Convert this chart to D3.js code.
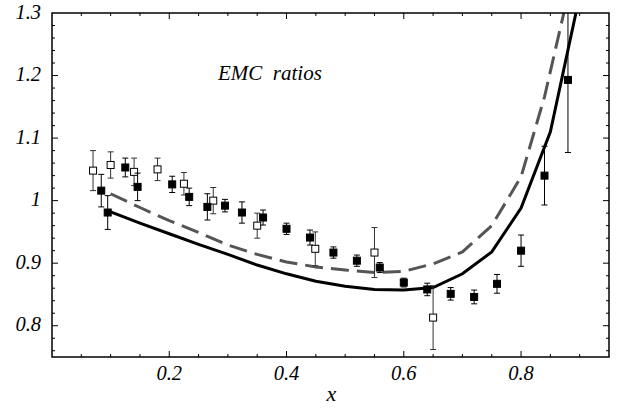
<!DOCTYPE html>
<html>
<head>
<meta charset="utf-8">
<script src="https://cdn.jsdelivr.net/npm/d3@7"></script>
<style>
  body { margin: 0; background: #fff; }
</style>
</head>
<body>
<div id="chart"></div>
<script>
// filled squares: x, ratio, error
const filledX = [0.084, 0.095, 0.125, 0.146, 0.205, 0.234, 0.265, 0.295, 0.324, 0.36, 0.40, 0.44, 0.48, 0.52, 0.559, 0.60, 0.64, 0.68, 0.72, 0.759, 0.80, 0.84, 0.88];
const filledY = [1.016, 0.981, 1.053, 1.022, 1.026, 1.006, 0.990, 0.992, 0.981, 0.973, 0.955, 0.941, 0.917, 0.904, 0.893, 0.869, 0.858, 0.851, 0.846, 0.867, 0.920, 1.040, 1.193];
const filledErr = [0.026, 0.027, 0.015, 0.022, 0.013, 0.014, 0.021, 0.010, 0.017, 0.012, 0.009, 0.012, 0.009, 0.009, 0.008, 0.007, 0.010, 0.010, 0.011, 0.015, 0.025, 0.047, 0.116];

// open squares
const openX = [0.070, 0.100, 0.140, 0.180, 0.225, 0.275, 0.350, 0.449, 0.550, 0.650];
const openY = [1.048, 1.057, 1.046, 1.050, 1.027, 1.000, 0.960, 0.923, 0.917, 0.813];
const openErr = [0.032, 0.021, 0.022, 0.018, 0.018, 0.021, 0.020, 0.027, 0.040, 0.051];

// solid curve
const solidX = [0.10, 0.15, 0.20, 0.25, 0.30, 0.35, 0.40, 0.45, 0.50, 0.55, 0.60, 0.65, 0.70, 0.75, 0.80, 0.85, 0.90];
const solidY = [0.982, 0.964, 0.947, 0.930, 0.914, 0.897, 0.883, 0.871, 0.863, 0.858, 0.857, 0.861, 0.883, 0.918, 0.988, 1.110, 1.328];

// dashed curve
const dashX = [0.10, 0.15, 0.20, 0.25, 0.30, 0.35, 0.40, 0.45, 0.50, 0.55, 0.60, 0.65, 0.70, 0.75, 0.80, 0.84, 0.90];
const dashY = [1.011, 0.989, 0.968, 0.949, 0.929, 0.914, 0.902, 0.894, 0.889, 0.885, 0.887, 0.899, 0.918, 0.960, 1.038, 1.166, 1.410];

const xTicks = [0.2, 0.4, 0.6, 0.8];
const yTicks = [0.8, 0.9, 1.0, 1.1, 1.2, 1.3];
const yTickLabels = ["0.8", "0.9", "1", "1.1", "1.2", "1.3"];

const W = 619, H = 408;
const margin = { top: 13, right: 10, bottom: 51, left: 52 };
const width = W - margin.left - margin.right,
  height = H - margin.top - margin.bottom;

const serif = "'Liberation Serif', 'Times New Roman', Times, serif";

const svg = d3.select("#chart").append("svg")
  .attr("width", W).attr("height", H)
  .attr("font-family", serif)
  .attr("font-style", "italic")
  .append("g")
  .attr("transform", "translate(" + margin.left + "," + margin.top + ")");

const x = d3.scaleLinear().domain([0, 0.95]).range([0, width]);
const y = d3.scaleLinear().domain([0.75, 1.3]).range([height, 0]);

svg.append("clipPath").attr("id", "clip")
  .append("rect").attr("width", width).attr("height", height);

const plot = svg.append("g").attr("clip-path", "url(#clip)");

// curves
const line = d3.line().x((d) => x(d[0])).y((d) => y(d[1]));
plot.append("path")
  .datum(dashX.map((v, i) => [v, dashY[i]]))
  .attr("fill", "none").attr("stroke", "#555").attr("stroke-width", 3)
  .attr("stroke-dasharray", "18,8")
  .attr("d", line);
plot.append("path")
  .datum(solidX.map((v, i) => [v, solidY[i]]))
  .attr("fill", "none").attr("stroke", "#000").attr("stroke-width", 3)
  .attr("d", line);

// error bars + markers
function drawSet(xs, ys, es, color, fill) {
  const data = xs.map((v, i) => ({ x: v, y: ys[i], e: es[i] }));
  const g = plot.append("g");
  g.selectAll(".bar").data(data).enter().append("line")
    .attr("x1", (d) => x(d.x)).attr("x2", (d) => x(d.x))
    .attr("y1", (d) => y(d.y - d.e)).attr("y2", (d) => y(d.y + d.e))
    .attr("stroke", color).attr("stroke-width", 1);
  [1, -1].forEach((s) => {
    g.selectAll(".cap" + s).data(data).enter().append("line")
      .attr("x1", (d) => x(d.x) - 3).attr("x2", (d) => x(d.x) + 3)
      .attr("y1", (d) => y(d.y + s * d.e)).attr("y2", (d) => y(d.y + s * d.e))
      .attr("stroke", color).attr("stroke-width", 1);
  });
  g.selectAll(".pt").data(data).enter().append("rect")
    .attr("x", (d) => x(d.x) - 3.5).attr("y", (d) => y(d.y) - 3.5)
    .attr("width", 7).attr("height", 7)
    .attr("fill", fill).attr("stroke", "#000").attr("stroke-width", 1);
}
drawSet(openX, openY, openErr, "#333", "#fff");
drawSet(filledX, filledY, filledErr, "#000", "#000");

// frame with inward ticks on all sides
const xMinor = d3.range(0.05, 0.95, 0.05);
const yMinor = d3.range(0.76, 1.3, 0.02);
const isMajor = (arr, d) => arr.some((t) => Math.abs(t - d) < 1e-6);
const frame = svg.append("g").attr("stroke", "#000");
frame.selectAll(".xt").data(xMinor).enter().append("line")
  .attr("x1", (d) => x(d)).attr("x2", (d) => x(d))
  .attr("y1", height).attr("y2", (d) => height - (isMajor(xTicks, d) ? 6 : 3));
frame.selectAll(".xtt").data(xMinor).enter().append("line")
  .attr("x1", (d) => x(d)).attr("x2", (d) => x(d))
  .attr("y1", 0).attr("y2", (d) => (isMajor(xTicks, d) ? 6 : 3));
frame.selectAll(".yt").data(yMinor).enter().append("line")
  .attr("y1", (d) => y(d)).attr("y2", (d) => y(d))
  .attr("x1", 0).attr("x2", (d) => (isMajor(yTicks, d) ? 6 : 3));
frame.selectAll(".ytr").data(yMinor).enter().append("line")
  .attr("y1", (d) => y(d)).attr("y2", (d) => y(d))
  .attr("x1", width).attr("x2", (d) => width - (isMajor(yTicks, d) ? 6 : 3));
svg.append("rect").attr("width", width).attr("height", height)
  .attr("fill", "none").attr("stroke", "#000").attr("stroke-width", 1.5);

// tick labels
svg.selectAll(".xl").data(xTicks).enter().append("text")
  .attr("x", (d) => x(d)).attr("y", height + 23)
  .attr("text-anchor", "middle").attr("font-size", 20.5)
  .text((d) => d.toFixed(1));
svg.selectAll(".yl").data(yTicks).enter().append("text")
  .attr("x", -11).attr("y", (d) => y(d)).attr("dy", "0.27em")
  .attr("text-anchor", "end").attr("font-size", 20.5)
  .text((d, i) => yTickLabels[i]);

svg.append("text")
  .attr("x", width / 2 + 1).attr("y", height + 44)
  .attr("text-anchor", "middle").attr("font-size", 22)
  .text("x");

svg.append("text")
  .attr("x", 166).attr("y", 67)
  .attr("font-size", 21).attr("xml:space", "preserve")
  .style("white-space", "pre")
  .text("EMC  ratios");
</script>
</body>
</html>
